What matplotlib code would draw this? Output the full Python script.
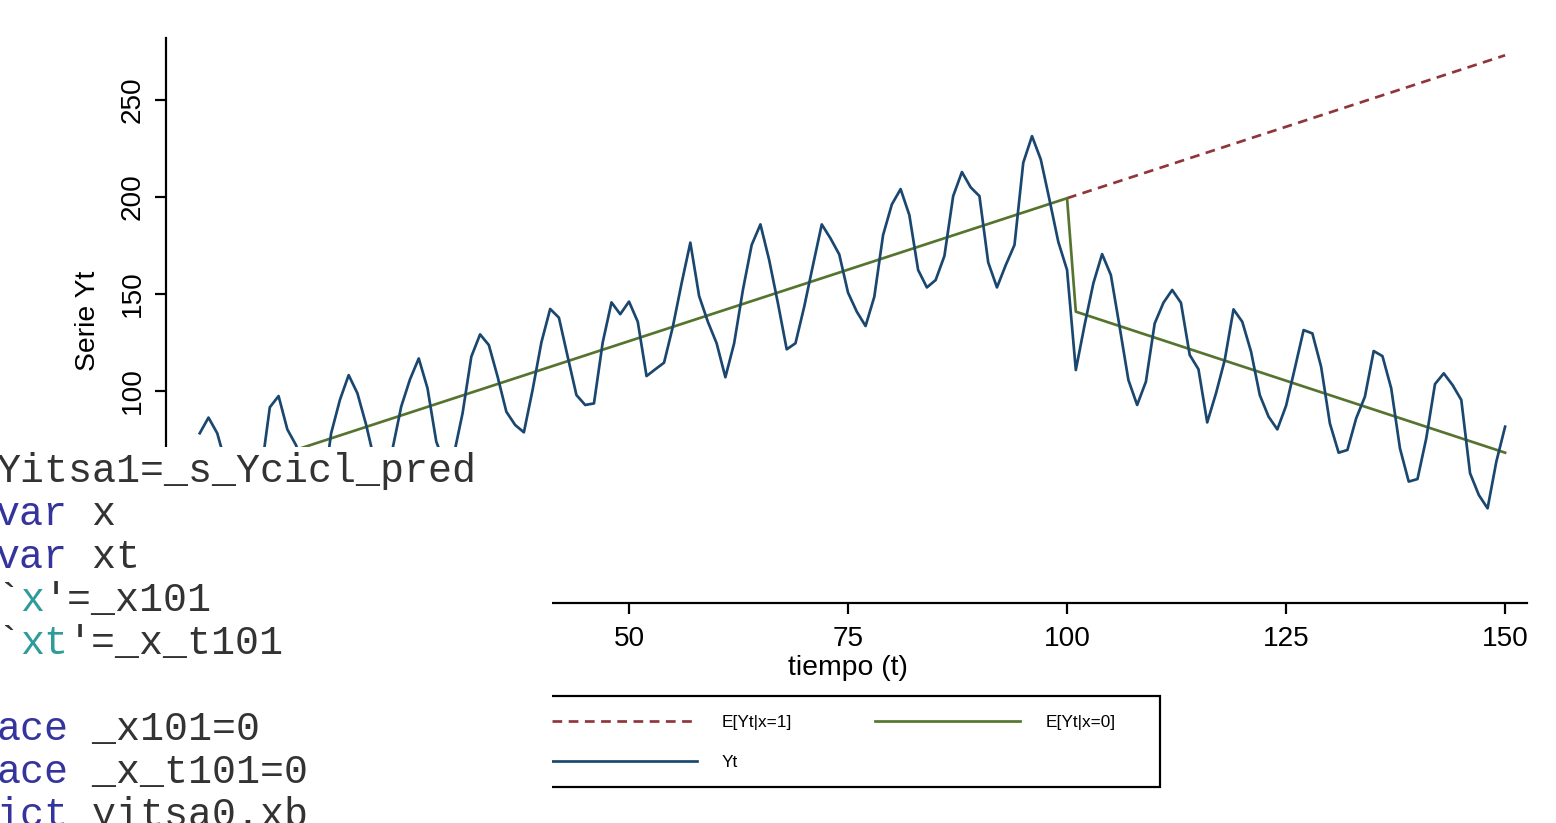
import matplotlib
matplotlib.use("Agg")
import matplotlib.pyplot as plt
from matplotlib.patches import Rectangle

W, H, DPI = 1556, 823, 100
PX = 72.0 / DPI  # points per pixel

plt.rcParams['font.family'] = ['Liberation Sans', 'DejaVu Sans']

# ---------------- data ----------------
t = list(range(1, 151))
yt = [78.2, 86.3, 78.2, 62.0, 45.0, 37.0, 34.0, 58.0, 91.6, 97.4,
      80.2, 72.0, 57.0, 49.0, 45.0, 78.2, 95.4, 108.2, 98.8, 82.5,
      63.0, 57.0, 70.0, 92.0, 106.0, 116.8, 101.4, 73.9, 62.0, 67.0,
      88.5, 117.7, 129.2, 123.7, 107.4, 89.3, 82.5, 78.7, 100.7, 125.1,
      142.3, 137.8, 117.7, 97.9, 92.8, 93.6, 125.1, 145.7, 139.6, 146.1,
      135.7, 107.7, 111.2, 114.6, 133.1, 155.5, 176.5, 149.0, 135.7, 124.6,
      107.1, 124.6, 152.1, 175.3, 185.9, 167.5, 145.2, 121.5, 124.6, 143.5,
      164.9, 185.9, 178.7, 170.4, 150.7, 140.9, 133.5, 148.6, 180.4, 196.2,
      204.1, 190.7, 162.4, 153.4, 157.2, 169.6, 200.5, 212.9, 205.0, 200.5,
      166.3, 153.4, 164.9, 175.3, 217.7, 231.4, 219.4, 198.5, 176.9, 162.4,
      110.8, 134.0, 155.5, 170.6, 159.8, 133.1, 105.7, 92.8, 104.8, 134.8,
      145.5, 152.1, 145.5, 118.6, 111.2, 83.8, 98.8, 116.0, 142.1, 135.7,
      120.3, 97.9, 86.8, 80.2, 92.4, 111.7, 131.4, 129.7, 112.5, 83.3,
      68.2, 69.6, 85.9, 97.1, 120.6, 118.0, 101.4, 70.4, 53.3, 54.6,
      75.6, 103.6, 109.1, 103.1, 95.4, 57.6, 46.4, 39.5, 63.6, 81.6]

e0_t = [1, 100, 101, 150]
e0_v = [53.5, 199.4, 140.9, 68.2]
e1_t = [100, 150]
e1_v = [199.4, 273.1]

xticks = [0, 25, 50, 75, 100, 125, 150]
yticks = [0, 50, 100, 150, 200, 250]

labels = ["E[Yt|x=1]", "E[Yt|x=0]", "Yt"]
xlabel = "tiempo (t)"
ylabel = "Serie Yt"

# code editor overlay lines: list of (text, color) segments
KW = '#34349c'
MAC = '#2f9c9c'
TX = '#333333'
code_lines = [
    [("Yitsa1=_s_Ycicl_pred", TX)],
    [("var", KW), (" x", TX)],
    [("var", KW), (" xt", TX)],
    [("`", TX), ("x", MAC), ("'=_x101", TX)],
    [("`", TX), ("xt", MAC), ("'=_x_t101", TX)],
    [],
    [("ace", KW), (" _x101=0", TX)],
    [("ace", KW), (" _x_t101=0", TX)],
    [("ict", KW), (" yitsa0.xb", TX)],
]

C_YT = '#1a476f'
C_E1 = '#90353b'
C_E0 = '#55752f'

# ---------------- figure ----------------
fig = plt.figure(figsize=(W / DPI, H / DPI), dpi=DPI)
fig.patch.set_facecolor('white')

ax_l, ax_r, ax_t, ax_b = 166, 1527, 38, 603
ax = fig.add_axes([ax_l / W, 1 - ax_b / H, (ax_r - ax_l) / W, (ax_b - ax_t) / H])

lw = 2.7 * PX
l_e1, = ax.plot(e1_t, e1_v, color=C_E1, lw=lw, dashes=(3.6, 2.4))
l_e0, = ax.plot(e0_t, e0_v, color=C_E0, lw=lw)
l_yt, = ax.plot(t, yt, color=C_YT, lw=lw)

ax.set_xlim(-2.85, 152.5)
ax.set_ylim(-9.3, 282)
ax.set_xticks(xticks)
ax.set_yticks(yticks)

for s in ['top', 'right']:
    ax.spines[s].set_visible(False)
for s in ['left', 'bottom']:
    ax.spines[s].set_linewidth(2.2 * PX)

ax.tick_params(axis='both', length=11 * PX, width=2.2 * PX, labelsize=28 * PX, direction='out')
ax.tick_params(axis='x', pad=12 * PX)
ax.tick_params(axis='y', pad=9 * PX, labelrotation=90)
for lab in ax.get_yticklabels():
    lab.set_va('center')

ax.set_xlabel(xlabel, fontsize=28.4 * PX, va='top')
ax.xaxis.set_label_coords((848 - ax_l) / (ax_r - ax_l), -(655 - ax_b) / (ax_b - ax_t))
ax.set_ylabel(ylabel, fontsize=28.4 * PX)
ax.yaxis.set_label_coords(-(ax_l - 101) / (ax_r - ax_l), 0.5)

# ---------------- legend ----------------
fs_leg = 17.2
leg = fig.legend([l_e1, l_yt, l_e0], [labels[0], labels[2], labels[1]], ncol=2,
                 loc='upper left', bbox_to_anchor=(551.5 / W, 1 - 715 / H),
                 bbox_transform=fig.transFigure, frameon=False,
                 borderpad=0, borderaxespad=0, fontsize=fs_leg * PX,
                 handlelength=145 / fs_leg, handletextpad=25.5 / fs_leg,
                 columnspacing=83 / fs_leg, labelspacing=1.45)
fig.add_artist(Rectangle((507 / W, 1 - 787 / H), (1160 - 507) / W, (787 - 696) / H,
                         transform=fig.transFigure, fill=False, ec='black',
                         lw=2.2 * PX, zorder=6))

# ---------------- code editor overlay ----------------
ov_right, ov_top = 552, 447
fig.add_artist(Rectangle((0, 0), ov_right / W, (H - ov_top) / H, transform=fig.transFigure,
                         facecolor='white', edgecolor='none', zorder=10))

# tick labels that lie fully under the editor window are not visible in the reference
fig.canvas.draw()
renderer = fig.canvas.get_renderer()
for lab in ax.get_xticklabels() + ax.get_yticklabels():
    bb = lab.get_window_extent(renderer)
    # window extent is in pixels from bottom-left
    if bb.x1 <= ov_right and (H - bb.y1) >= ov_top:
        lab.set_visible(False)

col_w = 24.0
left0 = -4.0
base0 = 482.0
pitch = 43.0
for i, segs in enumerate(code_lines):
    col = 0
    for txt, colr in segs:
        fig.text((left0 + col * col_w) / W, 1 - (base0 + i * pitch) / H, txt,
                 fontsize=40 * PX, family='Liberation Mono', color=colr,
                 ha='left', va='baseline', zorder=11)
        col += len(txt)

fig.savefig('out.png', dpi=DPI)
